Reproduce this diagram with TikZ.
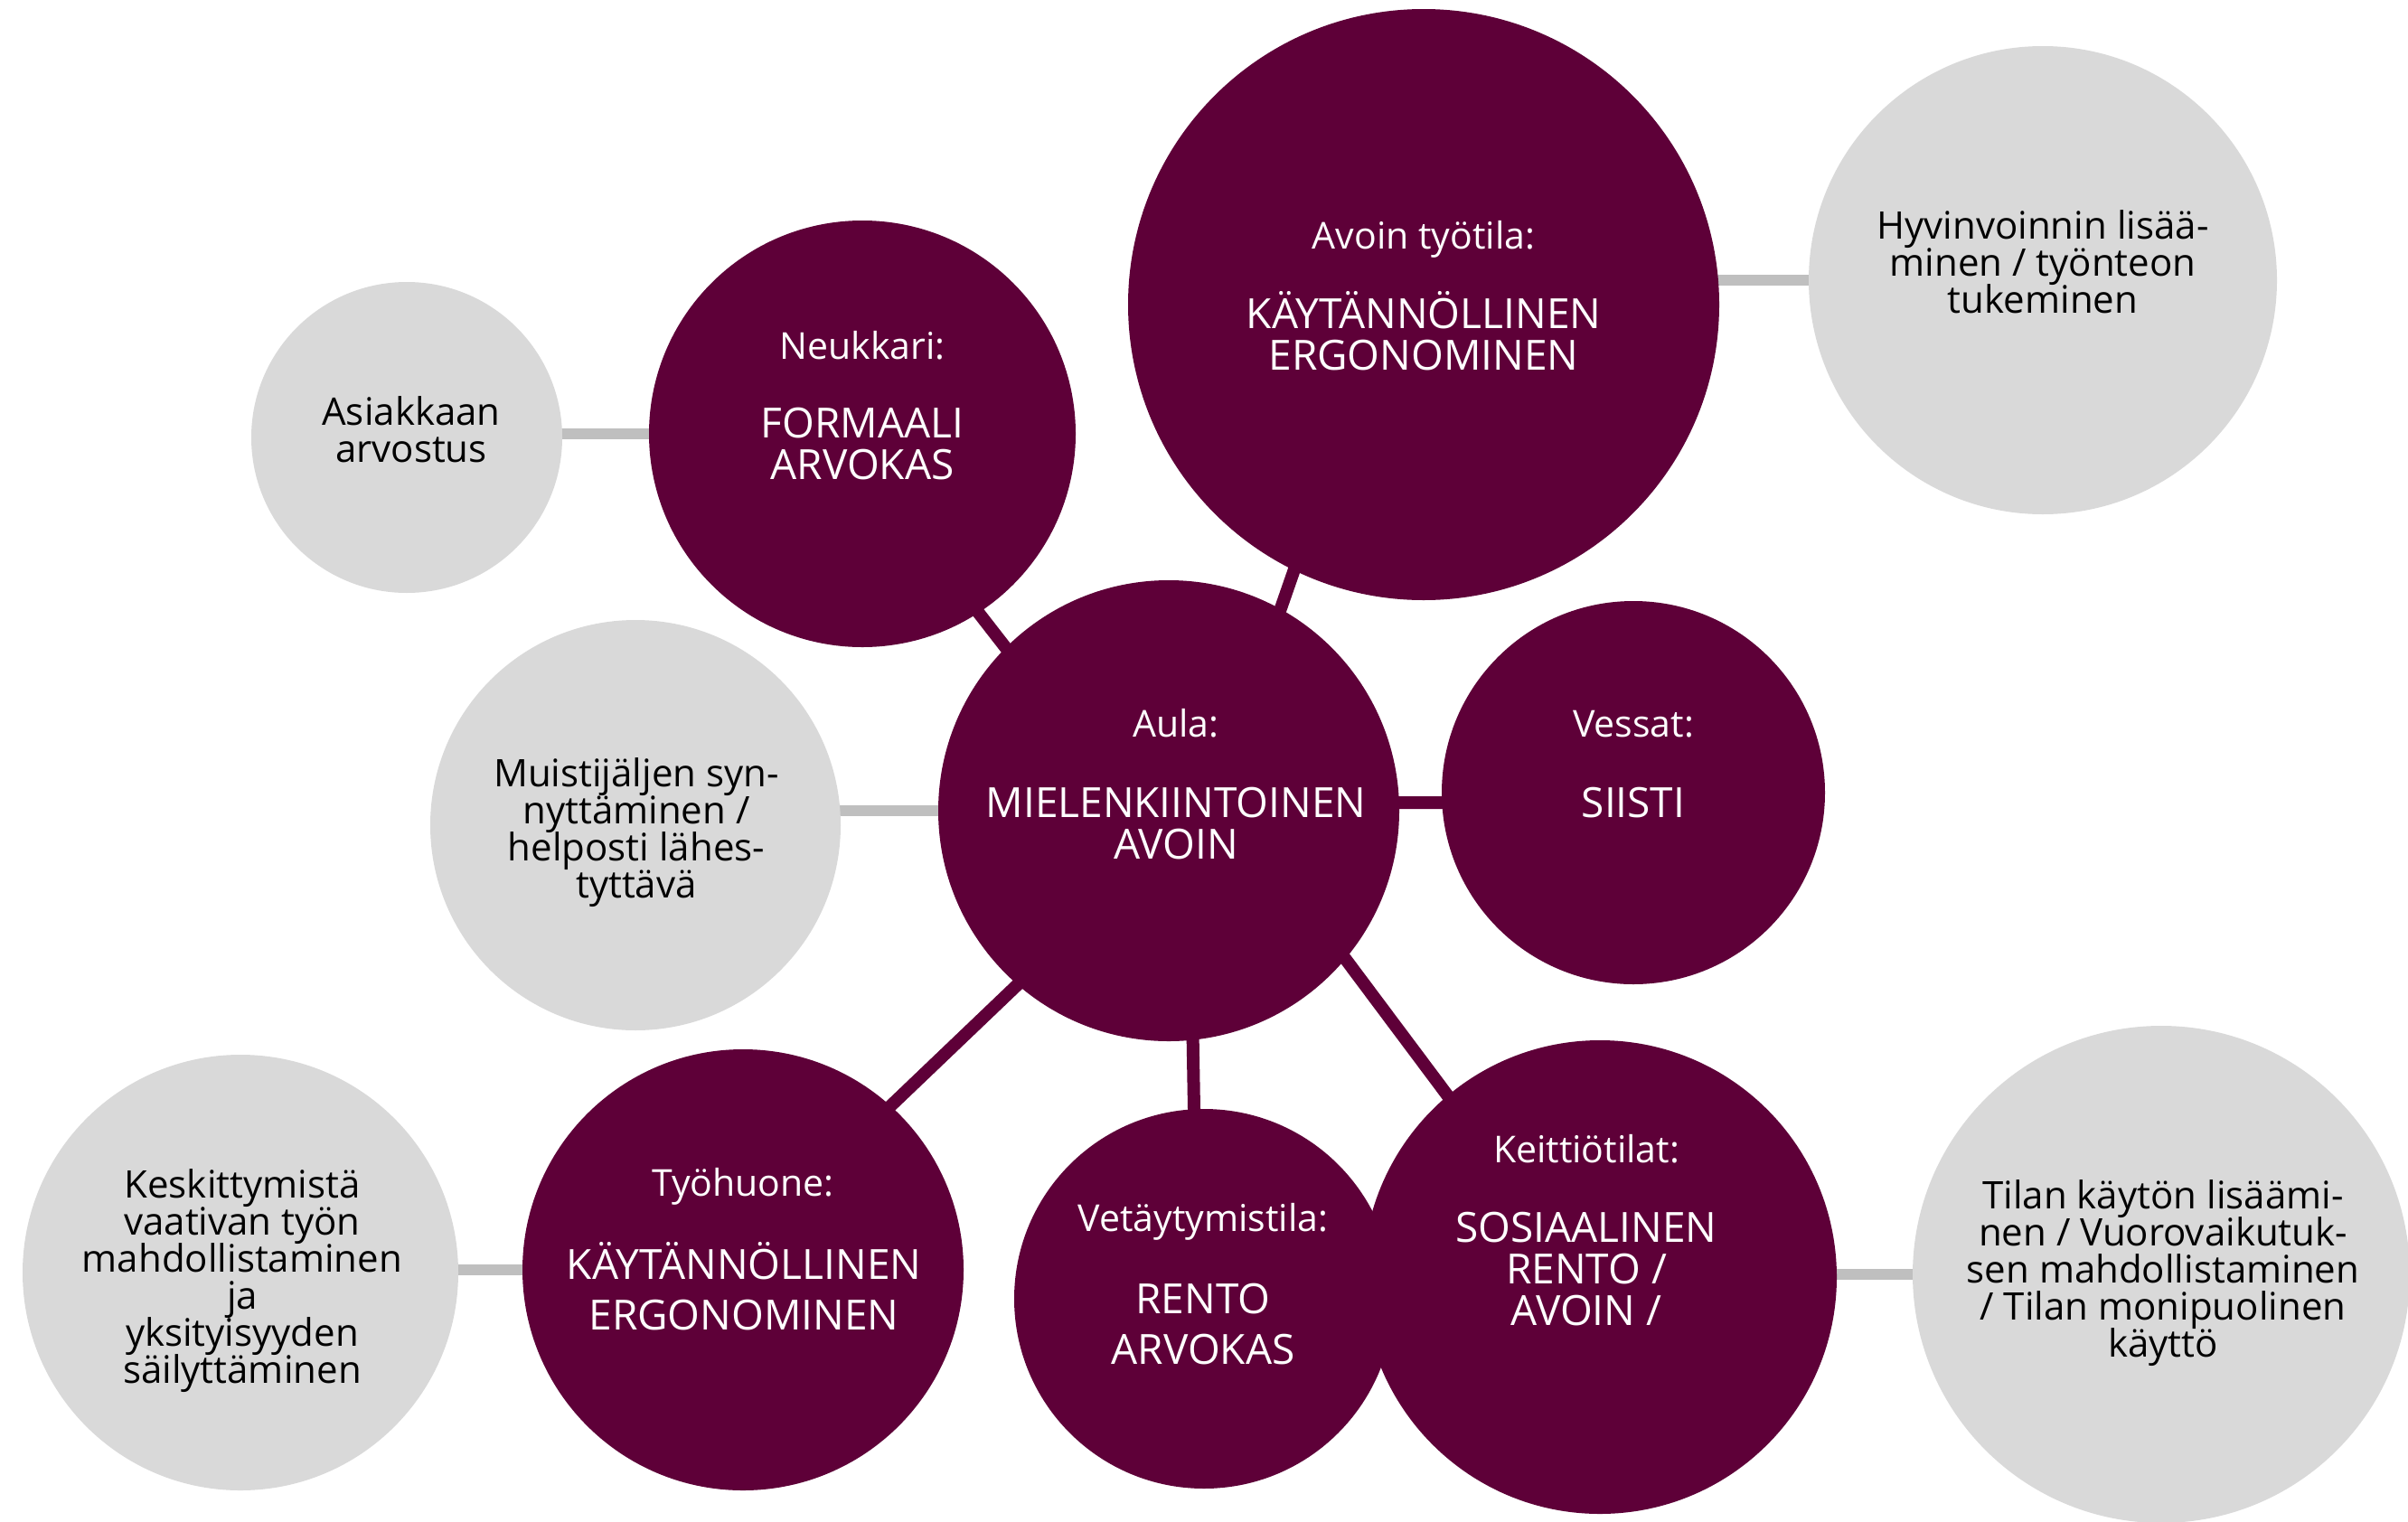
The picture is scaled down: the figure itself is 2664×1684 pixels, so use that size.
\documentclass[tikz,border=0pt]{standalone}
\usepackage{fontspec}
\setmainfont{Open Sans}
\usetikzlibrary{backgrounds}
\definecolor{pur}{RGB}{94,0,56}
\definecolor{gfill}{RGB}{217,217,217}
\definecolor{gline}{RGB}{191,191,191}
\newcommand\myTS{\rule{0pt}{1em}}
\newcommand\myBS{\rule[-.25em]{0pt}{.25em}}
\begin{document}
\setlength{\lineskiplimit}{-100pt}
\begin{tikzpicture}[x=1pt,y=-1pt,
  pcirc/.style={circle,fill=pur,draw=none,inner sep=0pt,minimum size=#1},
  gcirc/.style={circle,fill=gfill,draw=none,inner sep=0pt,minimum size=#1},
  pline/.style={draw=pur,line width=14pt,shorten <=-10pt,shorten >=-10pt},
  gline/.style={draw=gline,line width=12pt,shorten <=-10pt,shorten >=-10pt},
  htext/.style={text=white,inner sep=0pt,align=center,font=\fontsize{41}{41}\selectfont},
  mtext/.style={text=white,inner sep=0pt,align=center,font=\fontsize{46}{46}\selectfont},
  mtextw/.style={text=white,inner sep=0pt,align=center,font=\fontsize{46}{56}\selectfont},
  gtext/.style={text=black,inner sep=0pt,align=center,font=\fontsize{42}{41}\selectfont}]
\useasboundingbox (0,0) rectangle (2664,1684);

% circles
\node[gcirc=344pt] (asi) at (450,484) {};
\node[pcirc=472pt] (neu) at (954,480) {};
\node[pcirc=654pt] (avo) at (1575,337) {};
\node[gcirc=518pt] (hyv) at (2260,310) {};
\node[gcirc=454pt] (mui) at (703,913) {};
\node[pcirc=510pt] (aula) at (1293,897) {};
\node[pcirc=424pt] (ves) at (1807,877) {};
\node[gcirc=482pt] (kes) at (266,1408) {};
\node[pcirc=488pt] (tyo) at (822,1405) {};
\node[pcirc=420pt] (vet) at (1332,1437) {};
\node[pcirc=524pt] (kei) at (1770,1413) {};
\node[gcirc=550pt] (til) at (2391,1410) {};

% connectors
\begin{scope}[on background layer]
\draw[pline] (neu.-57) -- (aula.135);
\draw[pline] (avo.-116) -- (aula.61);
\draw[pline] (aula.2) -- (ves.183);
\draw[pline] (aula.-84) -- (vet.93);
\draw[pline] (aula.229) -- (tyo.48);
\draw[pline] (aula.-40) -- (kei.130);
\draw[gline] (asi.east |- neu.west) -- (neu.west);
\draw[gline] (avo.east |- hyv.west) -- (hyv.west);
\draw[gline] (mui.east |- aula.west) -- (aula.west);
\draw[gline] (kes.east |- tyo.west) -- (tyo.west);
\draw[gline] (kei.east |- til.west) -- (til.west);
\end{scope}

% texts
\node[gtext] (asiT) at (455,475) {\myTS Asiakkaan\\arvostus\myBS};
\node[htext] (neuH) at (954,382) {\myTS Neukkari:\myBS};
\node[mtext] (neuT) at (954,490) {\myTS FORMAALI\\ARVOKAS\myBS};
\node[htext] (avoH) at (1575,260) {\myTS Avoin työtila:\myBS};
\node[mtext] (avoT) at (1575,369) {\myTS KÄYTÄNNÖLLINEN\\ERGONOMINEN\myBS};
\node[gtext] (hyvT) at (2260,290) {\myTS Hyvinvoinnin lisää-\\minen / työnteon\\tukeminen\myBS};
\node[gtext] (muiT) at (704,916) {\myTS Muistijäljen syn-\\nyttäminen /\\helposti lähes-\\tyttävä\myBS};
\node[htext] (aulaH) at (1301,800) {\myTS Aula:\myBS};
\node[mtext] (aulaT) at (1301,910) {\myTS MIELENKIINTOINEN\\AVOIN\myBS};
\node[htext] (vesH) at (1807,800) {\myTS Vessat:\myBS};
\node[mtext] (vesT) at (1807,887) {\myTS SIISTI\myBS};
\node[gtext] (kesT) at (268,1412) {\myTS Keskittymistä\\vaativan työn\\mahdollistaminen\\ja\\yksityisyyden\\säilyttäminen\myBS};
\node[htext] (tyoH) at (822,1308) {\myTS Työhuone:\myBS};
\node[mtextw] (tyoT) at (823,1426) {\myTS KÄYTÄNNÖLLINEN\\ERGONOMINEN\myBS};
\node[htext] (vetH) at (1331,1347) {\myTS Vetäytymistila:\myBS};
\node[mtextw] (vetT) at (1331,1464) {\myTS RENTO\\ARVOKAS\myBS};
\node[htext] (keiH) at (1755,1271) {\myTS Keittiötilat:\myBS};
\node[mtext] (keiT) at (1755,1403) {\myTS SOSIAALINEN\\RENTO /\\AVOIN /\myBS};
\node[gtext] (tilT) at (2393,1404) {\myTS Tilan käytön lisäämi-\\nen / Vuorovaikutuk-\\sen mahdollistaminen\\/ Tilan monipuolinen\\käyttö\myBS};
\end{tikzpicture}
\end{document}
